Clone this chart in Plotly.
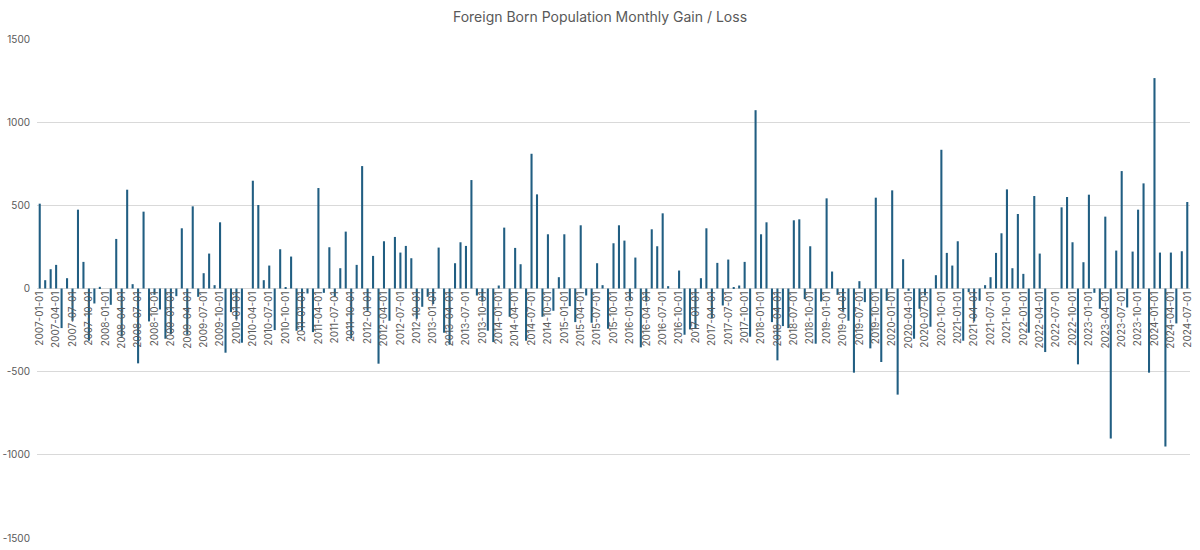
import pandas as pd
import plotly.graph_objects as go

# Monthly gain / loss (thousands), by year
values_2007 = [510, 50, 116, 142, -238, 62, -194, 474, 160, -314, -90, 10]
values_2008 = [0, -98, 298, -290, 594, 26, -450, 462, -198, -38, -126, -302]
values_2009 = [-274, -46, 362, -278, 494, -50, 92, 210, 20, 398, -386, -142]
values_2010 = [-186, -326, 0, 648, 502, 50, 138, -250, 236, 6, 192, -254]
values_2011 = [-250, -30, -262, 604, -26, 248, -50, 122, 342, -298, 142, 736]
values_2012 = [-134, 196, -452, 284, -194, 310, 216, 256, 182, -182, -110, -50]
values_2013 = [-94, 246, -266, -338, 152, 278, 256, 652, -42, -78, -254, -322]
values_2014 = [18, 366, -170, 244, 146, -314, 810, 566, -170, 326, -134, 68]
values_2015 = [326, -106, -202, 380, -42, -206, 152, 20, -242, 272, 380, 288]
values_2016 = [-70, 186, -354, -78, 356, 254, 452, 14, 0, 108, -278, -246]
values_2017 = [-238, 62, 362, -178, 154, -102, 174, 8, 18, 160, -290, 1072]
values_2018 = [326, 398, -202, -432, -226, -238, 410, 416, -64, 254, -332, -78]
values_2019 = [542, 102, -38, -134, -194, -506, 44, -82, -360, 546, -442, -74]
values_2020 = [590, -638, 176, -14, -302, -122, -42, -230, 80, 834, 214, 138]
values_2021 = [284, -314, -22, -198, -74, 20, 68, 214, 332, 596, 122, 448]
values_2022 = [88, -266, 556, 210, -382, 0, 0, 488, 550, 278, -456, 158]
values_2023 = [564, -26, -122, 432, -902, 228, 706, -114, 222, 474, 632, -506]
values_2024 = [1265, 216, -950, 216, -210, 224, 520]

values = (values_2007 + values_2008 + values_2009 + values_2010 + values_2011 +
          values_2012 + values_2013 + values_2014 + values_2015 + values_2016 +
          values_2017 + values_2018 + values_2019 + values_2020 + values_2021 +
          values_2022 + values_2023 + values_2024)

months = [d.strftime("%Y-%m-%d") for d in pd.date_range("2007-01-01", periods=len(values), freq="MS")]
tick_labels = months[::3]
y_ticks = [-1500, -1000, -500, 0, 500, 1000, 1500]
y_tick_text = ["-1500", "-1000", "-500", "0", "500", "1000", "1500"]

font_family = "Inter, Open Sans, sans-serif"
text_color = "#595959"

fig = go.Figure(go.Bar(
    x=months, y=values,
    marker=dict(color="#215e82", line=dict(width=0)),
))

fig.update_layout(
    width=1200, height=550,
    margin=dict(l=37, r=10, t=39, b=12, autoexpand=False),
    paper_bgcolor="white", plot_bgcolor="white",
    bargap=0.62,
    showlegend=False,
    title=dict(text="Foreign Born Population Monthly Gain / Loss",
               x=0.5, xanchor="center", y=1 - 17 / 550, yanchor="middle",
               yref="container",
               font=dict(family=font_family, size=14, color=text_color)),
    font=dict(family=font_family, color=text_color),
    xaxis=dict(
        type="category",
        tickmode="array", tickvals=tick_labels, ticktext=tick_labels,
        tickangle=-90,
        tickfont=dict(size=10, color=text_color),
        anchor="free", position=0.5,
        showgrid=False, showline=False, ticks="",
        range=[-0.5, len(values) - 0.5],
        automargin=False,
    ),
    yaxis=dict(
        range=[-1500, 1500],
        tickmode="array", tickvals=y_ticks, ticktext=y_tick_text,
        tickfont=dict(size=10, color=text_color),
        showgrid=True, gridcolor="#d9d9d9", gridwidth=1,
        zeroline=True, zerolinecolor="#d9d9d9", zerolinewidth=1,
        showline=False, ticks="", ticklabelstandoff=6,
        automargin=False,
    ),
)

fig.write_html("out.html")
